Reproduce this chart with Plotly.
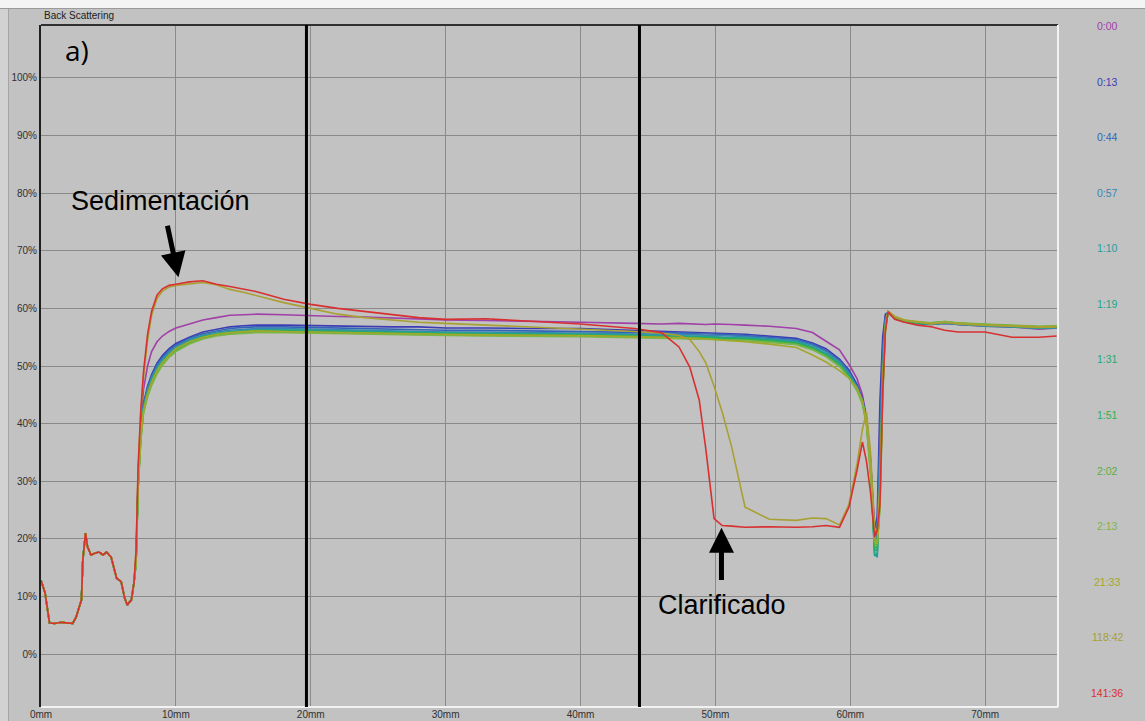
import plotly.graph_objects as go

# ---------------- data ----------------
# shared entry profile (all scans overlap here), mm / %
X_ENTRY = [0.0, 0.3, 0.63, 1.0, 1.5, 2.0, 2.35, 2.6, 3.0, 3.1, 3.3, 3.45, 3.7, 4.0, 4.3,
           4.6, 4.85, 5.2, 5.6, 5.95, 6.2, 6.4, 6.7, 6.9]
Y_ENTRY = [12.8, 10.6, 5.4, 5.3, 5.5, 5.4, 5.3, 6.4, 9.4, 16.3, 21.0, 18.6, 17.2, 17.5, 17.7,
           17.2, 17.7, 16.8, 13.2, 12.5, 9.7, 8.5, 9.4, 12.5]

# shared x grid for the rest of each profile (mm)
X_BODY = [7.05, 7.2, 7.4, 7.6, 7.9, 8.2, 8.6, 9.0, 9.5, 10, 11, 12, 13, 14, 15, 16, 18, 20,
          22, 24, 26, 28, 30, 33, 36, 40, 44, 46, 47.3, 48.1, 48.8, 49.3, 49.9, 50.5, 51.2,
          52.2, 54, 56, 57.2, 58.2, 59.2, 59.9, 60.5, 60.9, 61.2, 61.5, 61.8, 62.0, 62.2,
          62.4, 62.6, 62.8, 63.3, 64, 65, 66, 67, 68, 70, 72, 74, 75.3]

SCAN_TIMES = ["0:00", "0:13", "0:44", "0:57", "1:10", "1:19", "1:31", "1:51", "2:02",
              "2:13", "21:33", "118:42", "141:36"]

BS_0000 = [17, 31, 40, 46, 50, 52.5, 54.2, 55.2, 56.0, 56.6, 57.3, 58.0, 58.4, 58.8, 58.9, 59.0,
           58.9, 58.7, 58.6, 58.5, 58.3, 58.2, 58.0, 57.9, 57.8, 57.6, 57.4, 57.3, 57.4, 57.3,
           57.3, 57.2, 57.3, 57.2, 57.2, 57.1, 56.9, 56.5, 55.8, 54.3, 52.8, 50.3, 47.8, 45.0,
           41.1, 34.0, 22.0, 20.5, 33, 50, 57.5, 59.2, 58.4, 57.8, 57.4, 57.2, 57.4, 57.2, 56.9,
           56.8, 56.4, 56.6]
BS_0013 = [16.5, 30, 38.5, 43.5, 46.5, 48.5, 50.5, 51.8, 53.0, 53.9, 55.0, 55.9, 56.4, 56.8, 57.0,
           57.1, 57.1, 57.0, 57.0, 56.9, 56.8, 56.8, 56.6, 56.6, 56.5, 56.5, 56.2, 56.0, 56.0,
           55.9, 55.9, 55.8, 55.7, 55.7, 55.6, 55.5, 55.2, 54.8, 54.0, 53.0, 51.2, 49.3, 46.8,
           44.3, 41.0, 33.5, 21.5, 24, 44, 55, 59, 59.3, 58.3, 57.8, 57.5, 57.4, 57.5, 57.3,
           57.0, 56.9, 56.7, 56.8]
BS_0044 = [16.3, 29.8, 38.3, 43.2, 46.2, 48.2, 50.2, 51.5, 52.7, 53.6, 54.8, 55.6, 56.1, 56.5,
           56.7, 56.8, 56.8, 56.7, 56.6, 56.5, 56.4, 56.3, 56.2, 56.2, 56.1, 56.0, 55.9, 55.8,
           55.7, 55.7, 55.6, 55.6, 55.5, 55.5, 55.4, 55.3, 55.0, 54.6, 53.8, 52.7, 51.0, 49.0,
           46.6, 44.2, 40.8, 33.2, 20.8, 22.5, 40, 53, 58.5, 59.3, 58.3, 57.7, 57.4, 57.3, 57.5,
           57.2, 57.0, 56.8, 56.6, 56.7]
BS_0057 = [16.2, 29.6, 38.1, 43.0, 46.0, 48.0, 49.9, 51.2, 52.4, 53.4, 54.6, 55.4, 55.9, 56.2,
           56.4, 56.5, 56.5, 56.4, 56.3, 56.2, 56.1, 56.0, 55.9, 55.9, 55.8, 55.7, 55.6, 55.5,
           55.5, 55.4, 55.4, 55.3, 55.3, 55.2, 55.2, 55.1, 54.8, 54.4, 53.6, 52.5, 50.8, 48.8,
           46.4, 44.0, 40.6, 33, 19.5, 20.5, 36, 51, 58, 59.3, 58.2, 57.7, 57.4, 57.2, 57.4, 57.2,
           56.9, 56.8, 56.5, 56.6]
BS_0110 = [16, 29.5, 38, 42.8, 45.6, 47.6, 49.6, 51.0, 52.2, 53.2, 54.4, 55.2, 55.7, 56.0, 56.2,
           56.3, 56.3, 56.2, 56.1, 56.0, 55.9, 55.9, 55.8, 55.7, 55.7, 55.6, 55.4, 55.3, 55.3,
           55.2, 55.2, 55.1, 55.1, 55.0, 55.0, 54.9, 54.6, 54.2, 53.3, 52.2, 50.5, 48.5, 46.2,
           43.9, 40.5, 33, 17.5, 16.8, 30, 48, 57.2, 59.3, 58.3, 57.7, 57.4, 57.3, 57.5, 57.3,
           57.0, 56.9, 56.6, 56.7]
BS_0119 = [16, 29.4, 37.9, 42.6, 45.4, 47.4, 49.4, 50.8, 52.0, 53.0, 54.2, 55.1, 55.6, 55.9,
           56.1, 56.2, 56.2, 56.1, 56.0, 55.9, 55.8, 55.8, 55.7, 55.6, 55.6, 55.5, 55.3, 55.2,
           55.2, 55.1, 55.1, 55.0, 55.0, 54.9, 54.9, 54.8, 54.5, 54.1, 53.2, 52.0, 50.3, 48.3,
           46.1, 43.8, 40.5, 33, 17, 17.5, 29, 47, 57, 59.2, 58.3, 57.8, 57.5, 57.3, 57.6, 57.3,
           57.1, 56.9, 56.6, 56.8]
BS_0131 = [15.9, 29.2, 37.7, 42.4, 45.2, 47.2, 49.2, 50.7, 51.9, 52.9, 54.1, 55.0, 55.5, 55.8,
           56.0, 56.1, 56.1, 56.0, 55.9, 55.8, 55.7, 55.7, 55.6, 55.5, 55.5, 55.4, 55.2, 55.1,
           55.1, 55.0, 55.0, 54.9, 54.9, 54.8, 54.8, 54.7, 54.4, 54.0, 53.1, 51.9, 50.2, 48.2,
           46.0, 43.7, 40.4, 32.5, 18, 18, 28, 47, 56.8, 59.3, 58.4, 57.8, 57.5, 57.4, 57.6,
           57.4, 57.1, 57.0, 56.7, 56.8]
BS_0151 = [15.8, 29, 37.5, 42.2, 45.0, 47.0, 49.0, 50.5, 51.8, 52.8, 54.0, 54.9, 55.4, 55.7,
           55.9, 56.0, 56.0, 55.9, 55.8, 55.7, 55.6, 55.6, 55.5, 55.4, 55.4, 55.3, 55.1, 55.0,
           55.0, 54.9, 54.9, 54.8, 54.8, 54.7, 54.7, 54.6, 54.3, 53.9, 53.0, 51.8, 50.1, 48.1,
           45.9, 43.6, 40.2, 32, 18.5, 18.5, 27, 46, 56.5, 59.3, 58.4, 57.8, 57.5, 57.4, 57.6,
           57.4, 57.2, 57.0, 56.8, 56.9]
BS_0202 = [15.7, 28.8, 37.3, 42.0, 44.8, 46.8, 48.8, 50.3, 51.6, 52.6, 53.9, 54.8, 55.3, 55.6,
           55.8, 55.9, 55.9, 55.8, 55.7, 55.6, 55.5, 55.5, 55.4, 55.3, 55.3, 55.2, 55.0, 54.9,
           54.9, 54.8, 54.8, 54.7, 54.7, 54.6, 54.6, 54.5, 54.2, 53.8, 52.9, 51.7, 50.0, 48.0,
           45.8, 43.5, 40.0, 31.5, 19, 19, 26, 45, 56.2, 59.4, 58.5, 57.9, 57.6, 57.5, 57.7,
           57.4, 57.2, 57.0, 56.8, 56.9]
BS_0213 = [15.6, 28.6, 37.1, 41.8, 44.6, 46.6, 48.6, 50.1, 51.5, 52.5, 53.8, 54.7, 55.2, 55.5,
           55.7, 55.8, 55.8, 55.7, 55.6, 55.5, 55.4, 55.4, 55.3, 55.2, 55.2, 55.1, 54.9, 54.8,
           54.8, 54.7, 54.7, 54.6, 54.6, 54.5, 54.5, 54.4, 54.1, 53.7, 52.8, 51.6, 49.9, 47.9,
           45.7, 43.4, 39.8, 31, 19.5, 19.5, 25, 44, 56, 59.4, 58.5, 57.9, 57.6, 57.5, 57.7, 57.5,
           57.3, 57.1, 56.9, 57.0]
BS_2133 = [15.8, 29, 37.5, 42.3, 45.2, 47.2, 49.2, 50.6, 51.9, 53.0, 54.2, 55.0, 55.5, 55.8,
           56.0, 56.1, 56.0, 55.9, 55.8, 55.7, 55.6, 55.6, 55.5, 55.4, 55.4, 55.3, 55.1, 55.0,
           54.9, 54.8, 54.8, 54.7, 54.6, 54.5, 54.4, 54.2, 53.8, 53.2, 51.9, 50.7, 49.2, 47.9,
           46.2, 44.0, 40.5, 33, 20, 19, 26, 45, 56.5, 59.5, 58.6, 58.0, 57.7, 57.4, 57.6, 57.4,
           57.1, 57.0, 56.8, 56.9]
BS_11842 = [18, 32, 42, 48, 54.5, 58.8, 61.7, 63.0, 63.7, 64.0, 64.3, 64.5, 64.1, 63.3, 62.8,
            62.2, 61.0, 60.0, 59.0, 58.4, 58.0, 57.6, 57.4, 57.1, 56.9, 56.5, 56.0, 55.7, 55.3,
            54.6, 52.5, 50.5, 46.5, 42.0, 36.0, 25.5, 23.4, 23.2, 23.6, 23.5, 22.4, 26, 33, 39,
            42, 35, 22, 21, 30, 48, 57, 59.5, 58.6, 58.0, 57.6, 57.3, 57.6, 57.3, 57.1, 56.9,
            56.7, 56.8]
BS_14136 = [18, 32.5, 42.5, 49, 55.5, 59.5, 62.3, 63.4, 64.0, 64.2, 64.6, 64.8, 64.2, 63.8, 63.4,
            62.9, 61.6, 60.7, 60.0, 59.5, 58.9, 58.4, 58.1, 58.2, 57.8, 57.3, 56.5, 55.8, 53.3,
            49.8, 44.1, 35.4, 23.5, 22.3, 22.2, 22.0, 22.1, 22.0, 22.1, 22.3, 22.0, 25.5, 31.9,
            36.8, 33.5, 28, 20.3, 21.5, 26, 45, 56, 59.4, 58.1, 57.6, 57.1, 56.8, 56.2, 55.9,
            55.9, 55.0, 55.0, 55.2]

SERIES = [BS_0000, BS_0013, BS_0044, BS_0057, BS_0110, BS_0119, BS_0131, BS_0151, BS_0202,
          BS_0213, BS_2133, BS_11842, BS_14136]
COLORS = ["#a040a8", "#3c3cb4", "#3464b8", "#3a84b0", "#2a9ca0", "#22a68a", "#28a870",
          "#30b050", "#58b040", "#7cb648", "#a2a82a", "#a8a032", "#d83030"]

REFERENCE_LINES_MM = [19.68, 44.37]
X_TICKS = [0, 10, 20, 30, 40, 50, 60, 70]
Y_TICKS = [0, 10, 20, 30, 40, 50, 60, 70, 80, 90, 100]

# ---------------- figure ----------------
W, H = 1145, 721
ML, MR, MT, MB = 41, 87, 25, 14
PW, PH = W - ML - MR, H - MT - MB
BG = "#c2c2c2"


def px_x(px):
    return (px - ML) / PW


def px_y(py):
    return (H - MB - py) / PH


fig = go.Figure()
x_all = X_ENTRY + X_BODY
for ys, col, name in zip(SERIES, COLORS, SCAN_TIMES):
    fig.add_trace(go.Scatter(x=x_all, y=Y_ENTRY + ys, mode="lines", name=name,
                             line=dict(color=col, width=1.6), showlegend=False,
                             hoverinfo="skip"))

font_fam = "Liberation Sans, Arial, sans-serif"
shapes = []
# outer window decoration
shapes.append(dict(type="rect", xref="paper", yref="paper", x0=px_x(0), x1=px_x(W),
                   y0=px_y(8), y1=px_y(0), fillcolor="#f4f4f4", line=dict(width=0), layer="below"))
shapes.append(dict(type="line", xref="paper", yref="paper", x0=px_x(0), x1=px_x(W),
                   y0=px_y(8.5), y1=px_y(8.5), line=dict(color="#9a9a9a", width=1)))
shapes.append(dict(type="rect", xref="paper", yref="paper", x0=px_x(0), x1=px_x(8),
                   y0=px_y(H), y1=px_y(9), fillcolor="#d2d2d2", line=dict(width=0), layer="below"))
shapes.append(dict(type="line", xref="paper", yref="paper", x0=px_x(8.5), x1=px_x(8.5),
                   y0=px_y(H), y1=px_y(9), line=dict(color="#a4a4a4", width=1)))
# plot frame: dark top/left, light bottom/right
shapes.append(dict(type="line", xref="paper", yref="paper", x0=0, x1=1, y0=1, y1=1,
                   line=dict(color="#303030", width=2)))
shapes.append(dict(type="line", xref="paper", yref="paper", x0=1, x1=1, y0=0, y1=1,
                   line=dict(color="#f2f2f2", width=2)))
shapes.append(dict(type="line", xref="paper", yref="paper", x0=0, x1=1, y0=0, y1=0,
                   line=dict(color="#f2f2f2", width=2)))
for xm in REFERENCE_LINES_MM:
    shapes.append(dict(type="line", xref="x", yref="paper", x0=xm, x1=xm, y0=0, y1=1,
                       line=dict(color="#000000", width=3)))

annotations = []
annotations.append(dict(text="Back Scattering", xref="paper", yref="paper", x=px_x(42),
                        y=px_y(15), xanchor="left", yanchor="middle", showarrow=False,
                        font=dict(family=font_fam, size=10, color="#202020")))
annotations.append(dict(text="a)", xref="paper", yref="paper", x=px_x(63), y=px_y(50),
                        xanchor="left", yanchor="middle", showarrow=False,
                        font=dict(family="Open Sans, sans-serif", size=28, color="#000000")))
for i, (name, col) in enumerate(zip(SCAN_TIMES, COLORS)):
    annotations.append(dict(text=name, xref="paper", yref="paper", x=px_x(1107),
                            y=px_y(26 + i * 55.58), xanchor="center", yanchor="middle",
                            showarrow=False, font=dict(family=font_fam, size=10.5, color=col)))
# Sedimentación
annotations.append(dict(text="Sedimentación", x=8.86, y=78.6, xref="x", yref="y",
                        showarrow=False, font=dict(family=font_fam, size=27, color="#000")))
annotations.append(dict(text="", x=10.19, y=65.4, ax=9.35, ay=74.6, xref="x", yref="y",
                        axref="x", ayref="y", showarrow=True, arrowhead=2, arrowsize=1.0,
                        arrowwidth=5, arrowcolor="#000"))
# Clarificado
annotations.append(dict(text="Clarificado", x=50.52, y=8.5, xref="x", yref="y",
                        showarrow=False, font=dict(family=font_fam, size=27, color="#000")))
annotations.append(dict(text="", x=50.45, y=21.9, ax=50.45, ay=12.6, xref="x", yref="y",
                        axref="x", ayref="y", showarrow=True, arrowhead=2, arrowsize=1.0,
                        arrowwidth=5, arrowcolor="#000"))

fig.update_layout(
    width=W, height=H,
    margin=dict(l=ML, r=MR, t=MT, b=MB, pad=0),
    paper_bgcolor=BG, plot_bgcolor=BG,
    shapes=shapes, annotations=annotations,
    xaxis=dict(range=[0, 75.4], tickvals=X_TICKS, ticktext=[f"{v}mm" for v in X_TICKS],
               showgrid=True, gridcolor="#8a8a8a", gridwidth=1, zeroline=False,
               showline=False, ticks="", automargin=False,
               tickfont=dict(family=font_fam, size=10, color="#303030")),
    yaxis=dict(range=[-9.2, 109.2], tickvals=Y_TICKS, ticktext=[f"{v}%" for v in Y_TICKS],
               showgrid=True, gridcolor="#8a8a8a", gridwidth=1, zeroline=False,
               showline=True, linecolor="#202020", linewidth=2, ticks="", automargin=False,
               tickfont=dict(family=font_fam, size=10, color="#303030")),
)

fig.write_html("out.html")
